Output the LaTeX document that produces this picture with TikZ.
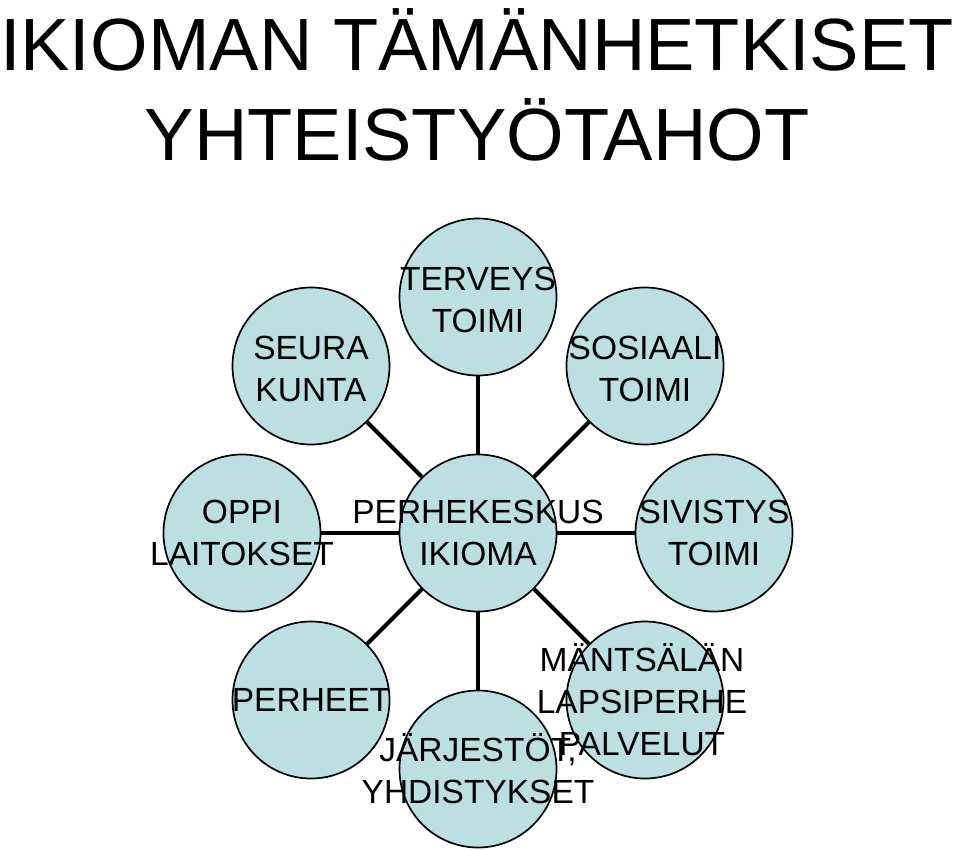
\documentclass[tikz,border=0pt]{standalone}
\usepackage{fontspec}
\setmainfont{Liberation Sans}
\usetikzlibrary{positioning}
\definecolor{ballfill}{RGB}{187,223,227}
\tikzset{
 ball/.style={circle,draw=black,line width=1.7pt,fill=ballfill,minimum size=157pt,inner sep=0pt},
 link/.style={line width=4pt},
 lbl/.style={align=center,inner sep=0pt,font=\fontsize{33.5}{42}\selectfont},
 title/.style={anchor=base,inner sep=0pt,font=\fontsize{74}{90}\selectfont}
}
\begin{document}
\begin{tikzpicture}[x=1pt,y=-1pt]
 \useasboundingbox (0,0) rectangle (960,849);
 % title
 \node (t1) at (477,70) [title] {IKIOMAN TÄMÄNHETKISET};
 \node (t2) at (477,160) [title] {YHTEISTYÖTAHOT};

 % coordinates
 \coordinate (c0) at (478,533);
 \coordinate (c1) at (478,297);
 \coordinate (c2) at (311,366);
 \coordinate (c3) at (645,366);
 \coordinate (c4) at (242,533);
 \coordinate (c5) at (714,533);
 \coordinate (c6) at (311,700);
 \coordinate (c7) at (645,700);
 \coordinate (c8) at (478,769);

 % circles
 \foreach \x in {0,...,8} {
  \node (b\x) at (c\x) [ball] {};
 }

 % connectors
 \foreach \x in {1,...,8} {
  \draw[link] (b0) -- (b\x);
 };

 % labels
 \node (l0) at (c0) [lbl] {PERHEKESKUS\\IKIOMA};
 \node (l1) at ([yshift=-3]c1) [lbl] {TERVEYS\\TOIMI};
 \node (l2) at ([yshift=-3]c2) [lbl] {SEURA\\KUNTA};
 \node (l3) at ([yshift=-3]c3) [lbl] {SOSIAALI\\TOIMI};
 \node (l4) at (c4) [lbl] {OPPI\\LAITOKSET};
 \node (l5) at (c5) [lbl] {SIVISTYS\\TOIMI};
 \node (l6) at (c6) [lbl] {PERHEET};
 \node (l7) at ([xshift=-3]c7) [lbl] {MÄNTSÄLÄN\\LAPSIPERHE\\PALVELUT};
 \node (l8) at (c8) [lbl] {JÄRJESTÖT,\\YHDISTYKSET};
\end{tikzpicture}
\end{document}
